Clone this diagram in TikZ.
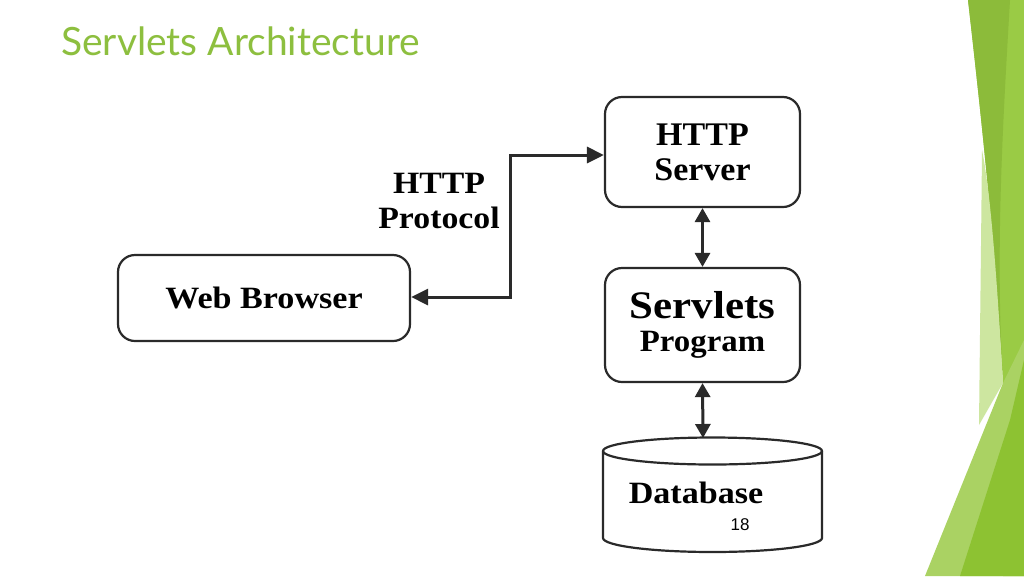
\documentclass[tikz,border=0pt]{standalone}
\usepackage{fontspec}
\usepackage{graphicx}
\setmainfont{Liberation Serif}
\newfontfamily\titlefont{Lato}
\newfontfamily\numfont{Liberation Sans}
\usetikzlibrary{arrows.meta}
\definecolor{titlegreen}{HTML}{8DBF3F}
\definecolor{gdark}{HTML}{8CBB3A}
\definecolor{gmid}{HTML}{9ACB45}
\definecolor{glight}{HTML}{CDE6A0}
\definecolor{gbright}{HTML}{8DC232}
\definecolor{gpale}{HTML}{AAD263}
\definecolor{ink}{HTML}{2A2A2A}
\newcommand\wtext[2][1.08]{\scalebox{#1}[1]{#2}}
\tikzset{
  box/.style={draw=ink, line width=2.2pt, rounded corners=17pt, fill=white, align=center},
  conn/.style={draw=ink, line width=3pt, -{Triangle[length=17pt,width=16pt]}},
  dconn/.style={draw=ink, line width=3pt, {Triangle[length=14pt,width=15pt]}-{Triangle[length=14pt,width=15pt]}},
}
\begin{document}
\begin{tikzpicture}[x=1pt,y=-1pt]
\useasboundingbox (0,0) rectangle (1024,576);
\fill[white] (0,0) rectangle (1024,576);
% right decoration
\fill[gmid] (968,0) -- (1024,0) -- (1024,576) -- (1003,576) -- (1003,383) .. controls (995,250) and (985,150) .. (968,0) -- cycle;
\fill[gdark] (968,0) -- (1010,0) .. controls (1003,120) and (995,250) .. (1003,383) .. controls (995,250) and (985,150) .. (968,0) -- cycle;
\fill[glight] (982,150) .. controls (992,200) and (998,300) .. (1003,383) -- (979,425) .. controls (980,330) and (981,250) .. (982,150) -- cycle;
\fill[gpale] (925,576) -- (1003,383) -- (1024,340) -- (1024,576) -- cycle;
\fill[gbright] (960,576) -- (1010,420) -- (1024,360) -- (1024,576) -- cycle;
% title
\node[anchor=base west, inner sep=0pt, text=titlegreen, font=\titlefont\fontsize{39}{42}\selectfont] (title) at (61,55) {Servlets Architecture};
% boxes
\node[box, minimum width=195pt, minimum height=110pt, font=\bfseries\fontsize{33}{35}\selectfont] (server) at (702.5,152)
  {\wtext[1.03]{HTTP}\\\wtext[1.03]{Server}};
\node[box, minimum width=195pt, minimum height=114pt, font=\bfseries\fontsize{31}{33}\selectfont] (servlet) at (702.5,325)
  {\wtext[1.1]{\fontsize{39}{33}\selectfont Servlets}\\\wtext[1.06]{Program}};
\node[box, minimum width=292pt, minimum height=86pt, font=\bfseries\fontsize{31}{33}\selectfont] (browser) at (264,298)
  {\wtext[1.1]{Web Browser}};
% database cylinder
\filldraw[draw=ink, fill=white, line width=2.2pt]
  (603,451) -- (603,538) arc[start angle=180, end angle=360, x radius=109.5pt, y radius=14pt]
  -- (822,451) arc[start angle=0, end angle=180, x radius=109.5pt, y radius=13.5pt] -- cycle;
\draw[draw=ink, line width=2.2pt] (603,451) arc[start angle=180, end angle=360, x radius=109.5pt, y radius=13.5pt];
\coordinate (dbtop) at (703,438);
\node[font=\bfseries\fontsize{31}{33}\selectfont, anchor=base] (db) at (696,503) {\wtext[1.1]{Database}};
\node[font=\numfont\fontsize{17}{19}\selectfont, anchor=base] (pagenum) at (740,530) {18};
% label
\node[font=\bfseries\fontsize{31}{35}\selectfont, align=center] (proto) at (439,201) {\wtext[1.09]{HTTP}\\\wtext[1.09]{Protocol}};
% connectors
\coordinate (bend1) at (510,155);
\coordinate (bend2) at (510,297);
\draw[conn] (bend2) -- (browser.east |- bend2);
\draw[conn, shorten <=-1.5pt] (bend2) -- (bend1) -- (server.west |- bend1);
\draw[dconn] (server.south) -- (servlet.north);
\draw[dconn] (servlet.south) -- (dbtop);
\end{tikzpicture}
\end{document}
